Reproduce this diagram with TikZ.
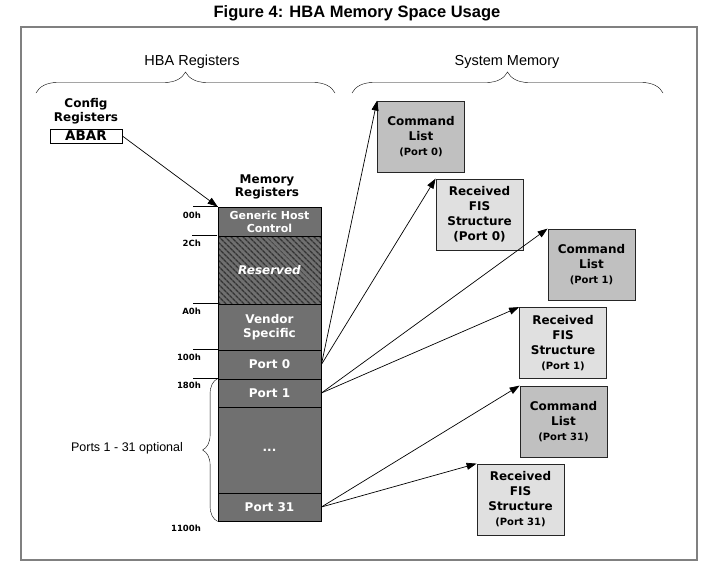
\documentclass[tikz,border=0pt]{standalone}
\usepackage{fontspec}
\setmainfont{Liberation Sans}
\newfontfamily\dvfont{DejaVu Sans}
\usetikzlibrary{arrows.meta,patterns.meta,decorations.pathreplacing}

\definecolor{stackgray}{RGB}{112,112,112}
\definecolor{listgray}{RGB}{192,192,192}
\definecolor{fisgray}{RGB}{224,224,224}
\definecolor{framegray}{RGB}{128,128,128}

\tikzset{
  reg/.style={draw=black, line width=0.8pt, fill=stackgray, text=white, minimum width=103pt,
    inner sep=0pt, align=center, font=\dvfont\bfseries\fontsize{12}{14}\selectfont},
  membox/.style={draw=black!85, line width=0.8pt, minimum width=87pt, minimum height=71pt,
    inner sep=0pt, align=center, font=\dvfont\bfseries\fontsize{12}{15}\selectfont},
  cmdlist/.style={membox, fill=listgray},
  fisbox/.style={membox, fill=fisgray},
  offs/.style={anchor=east, inner sep=0pt, font=\dvfont\bfseries\fontsize{8.5}{10}\selectfont},
  heading/.style={font=\fontsize{14.5}{16}\selectfont},
  boldlbl/.style={align=center, font=\dvfont\bfseries\fontsize{12}{14}\selectfont},
  ptr/.style={-{Triangle[length=10pt,width=7pt]}, line width=0.7pt},
  offtick/.style={line width=0.7pt},
}

\begin{document}
\begin{tikzpicture}[x=1pt,y=-1pt]
  \useasboundingbox (0,0) rectangle (707,570);

  % Title and frame
  \node[font=\bfseries\fontsize{16.5}{18}\selectfont] (title) at (357,13) {Figure 4: HBA Memory Space Usage};
  \draw[framegray, line width=1.5pt] (21,27) rectangle (697,560);

  % Headings
  \node[heading] (hbareg) at (192,62) {HBA Registers};
  \node[heading] (sysmem) at (507,62) {System Memory};
  \draw[decorate, decoration={brace, amplitude=21pt}] (36,93) -- (335,93);
  \draw[decorate, decoration={brace, amplitude=21pt}] (352,93) -- (663,93);

  % Config registers
  \node[boldlbl] (cfg) at (86,111) {Config\\Registers};
  \node[draw, line width=0.8pt, fill=white, minimum width=72pt, minimum height=14pt, inner sep=0pt,
    font=\dvfont\bfseries\fontsize{13.5}{14}\selectfont] (abar) at (86,136) {ABAR};

  % Memory registers
  \node[boldlbl, font=\dvfont\bfseries\fontsize{12}{13}\selectfont] (memreg) at (267,187) {Memory\\Registers};
  \node[reg, minimum height=29pt, font=\dvfont\bfseries\fontsize{11}{13}\selectfont] (ghc) at (269.5,221.5) {Generic Host\\Control};
  \node[reg, minimum height=68pt, font=\dvfont\bfseries\itshape\fontsize{12}{14}\selectfont,
    preaction={fill=stackgray}, pattern={Lines[angle=-45,distance=4pt,line width=1.4pt]},
    pattern color=black!80] (res) at (269.5,270) {Reserved};
  \node[reg, minimum height=46pt] (vend) at (269.5,327) {Vendor\\Specific};
  \node[reg, minimum height=29pt] (p0) at (269.5,364.5) {Port 0};
  \node[reg, minimum height=28pt] (p1) at (269.5,393) {Port 1};
  \node[reg, minimum height=86pt] (pdots) at (269.5,450) {...};
  \node[reg, minimum height=28pt] (p31) at (269.5,507) {Port 31};

  % Offsets
  \foreach \r in {ghc,res,vend,p0,p1}
    \draw[offtick] (\r.north west) -- ++(-25,0);
  \node[offs] (o00) at (201,215) {00h};
  \node[offs] (o2c) at (201,243) {2Ch};
  \node[offs] (oa0) at (201,311) {A0h};
  \node[offs] (o100) at (201,357) {100h};
  \node[offs] (o180) at (201,385) {180h};
  \node[offs] (o1100) at (201,528) {1100h};

  \draw[decorate, decoration={brace, amplitude=15pt}] (p31.south west) -- (p1.north west);
  \node[font=\fontsize{12.5}{14}\selectfont] (opt) at (127,448) {Ports 1 - 31 optional};

  \draw[ptr] (abar.east) -- (ghc.north west);

  % System memory structures
  \node[cmdlist] (cl0) at (421,136.5) {Command\\List\\{\fontsize{10}{13}\selectfont (Port 0)}};
  \node[fisbox] (fis0) at (479.5,214.5) {Received\\FIS\\Structure\\(Port 0)};
  \node[cmdlist] (cl1) at (591.5,264.5) {Command\\List\\{\fontsize{10}{13}\selectfont (Port 1)}};
  \node[fisbox] (fis1) at (563,343) {Received\\FIS\\Structure\\{\fontsize{10}{13}\selectfont (Port 1)}};
  \node[cmdlist] (cl31) at (563.5,421.5) {Command\\List\\{\fontsize{10}{13}\selectfont (Port 31)}};
  \node[fisbox] (fis31) at (520.5,499.5) {Received\\FIS\\Structure\\{\fontsize{10}{13}\selectfont (Port 31)}};

  \draw[ptr] (p0.east) -- (cl0.north west);
  \draw[ptr] (p0.east) -- (fis0.north west);
  \draw[ptr] (p1.east) -- (cl1.north west);
  \draw[ptr] (p1.east) -- (fis1.north west);
  \draw[ptr] (p31.east) -- (cl31.north west);
  \draw[ptr] (p31.east) -- (fis31.north west);

\end{tikzpicture}
\end{document}
